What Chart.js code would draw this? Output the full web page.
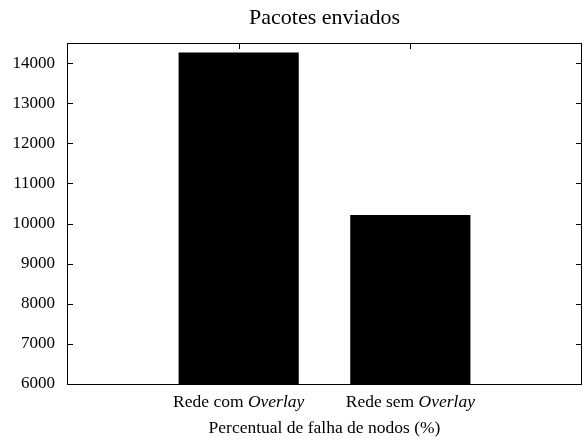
<!DOCTYPE html>
<html>
<head>
<meta charset="utf-8">
<script src="https://cdn.jsdelivr.net/npm/chart.js@4.4.1/dist/chart.umd.min.js"></script>
<style>
  html, body { margin: 0; padding: 0; background: #fff; }
  canvas { display: block; }
</style>
</head>
<body>
<canvas id="chart" width="585" height="440"></canvas>
<script>
// data
var categories = ['Rede com Overlay', 'Rede sem Overlay'];
var packetsSent = [14265, 10215];
var yTicks = [6000, 7000, 8000, 9000, 10000, 11000, 12000, 13000, 14000];
var chartTitle = 'Pacotes enviados';
var xTitle = 'Percentual de falha de nodos (%)';

var FONT = 'Liberation Serif';
var LABEL_SIZE = 17.5;
Chart.defaults.font.family = FONT;
Chart.defaults.color = '#000';

// empty slots on both sides, like gnuplot's xrange [-1:2]
var labels = [''].concat(categories, ['']);
var values = [null].concat(packetsSent, [null]);

// border and inward tic marks (mirrored on all sides)
var frame = {
    id: 'frame',
    beforeDatasetsDraw: function(chart) {
        var ctx = chart.ctx, a = chart.chartArea;
        var x = chart.scales.x, y = chart.scales.y;
        ctx.save();
        ctx.strokeStyle = '#000';
        ctx.lineWidth = 1;
        ctx.beginPath();
        yTicks.forEach(function(v) {
            var py = Math.round(y.getPixelForValue(v)) + 0.5;
            ctx.moveTo(a.left, py); ctx.lineTo(a.left + 6, py);
            ctx.moveTo(a.right, py); ctx.lineTo(a.right - 6, py);
        });
        categories.forEach(function(c, i) {
            var px = Math.round(x.getPixelForValue(i + 1)) + 0.5;
            ctx.moveTo(px, a.top); ctx.lineTo(px, a.top + 6);
            ctx.moveTo(px, a.bottom); ctx.lineTo(px, a.bottom - 6);
        });
        ctx.stroke();
        ctx.restore();
    },
    afterDatasetsDraw: function(chart) {
        var ctx = chart.ctx, a = chart.chartArea;
        ctx.save();
        ctx.strokeStyle = '#000';
        ctx.lineWidth = 1;
        ctx.strokeRect(Math.round(a.left) + 0.5, Math.round(a.top) + 0.5,
            Math.round(a.right - a.left) - 1, Math.round(a.bottom - a.top));
        ctx.restore();
    }
};

// category labels, "Overlay" set in italic
var catLabels = {
    id: 'catLabels',
    afterDraw: function(chart) {
        var ctx = chart.ctx, x = chart.scales.x;
        var base = chart.chartArea.bottom + 23;
        var normal = LABEL_SIZE + 'px "' + FONT + '"';
        var italic = 'italic ' + LABEL_SIZE + 'px "' + FONT + '"';
        ctx.save();
        ctx.fillStyle = '#000';
        ctx.textBaseline = 'alphabetic';
        ctx.textAlign = 'left';
        categories.forEach(function(c, i) {
            var k = c.indexOf('Overlay');
            var head = k >= 0 ? c.slice(0, k) : c;
            var tail = k >= 0 ? c.slice(k) : '';
            ctx.font = normal;
            var w1 = ctx.measureText(head).width;
            ctx.font = italic;
            var w2 = ctx.measureText(tail).width;
            var px = x.getPixelForValue(i + 1) - (w1 + w2) / 2;
            ctx.font = normal;
            ctx.fillText(head, px, base);
            ctx.font = italic;
            ctx.fillText(tail, px + w1, base);
        });
        ctx.restore();
    }
};

new Chart(document.getElementById('chart'), {
    type: 'bar',
    data: {
        labels: labels,
        datasets: [{
            data: values,
            backgroundColor: '#000',
            borderWidth: 0,
            barPercentage: 0.7,
            categoryPercentage: 1
        }]
    },
    options: {
        responsive: false,
        animation: false,
        layout: { padding: { left: 0, right: 3, top: 0, bottom: 0 } },
        plugins: {
            legend: { display: false },
            tooltip: { enabled: false },
            title: {
                display: true,
                fullSize: false,
                text: chartTitle,
                color: '#000',
                font: { family: FONT, size: 22, weight: 'normal', lineHeight: 1.2 },
                padding: { top: 5.5, bottom: 11.1 }
            }
        },
        scales: {
            x: {
                type: 'category',
                offset: false,
                grid: { display: false, drawTicks: false },
                border: { display: false },
                ticks: { display: false },
                title: {
                    display: true,
                    text: xTitle,
                    color: '#000',
                    font: { family: FONT, size: LABEL_SIZE, lineHeight: 1.2 },
                    padding: { top: 0, bottom: 1 }
                },
                afterFit: function(scale) { scale.height = 56; }
            },
            y: {
                min: 6000,
                max: 14500,
                grid: { display: false, drawTicks: false },
                border: { display: false },
                ticks: {
                    color: '#000',
                    padding: 12,
                    font: { family: FONT, size: 17 },
                    callback: function(v) { return String(v); }
                },
                afterBuildTicks: function(scale) {
                    scale.ticks = yTicks.map(function(v) { return { value: v }; });
                },
                afterFit: function(scale) { scale.width = 67; }
            }
        }
    },
    plugins: [frame, catLabels]
});
</script>
</body>
</html>
